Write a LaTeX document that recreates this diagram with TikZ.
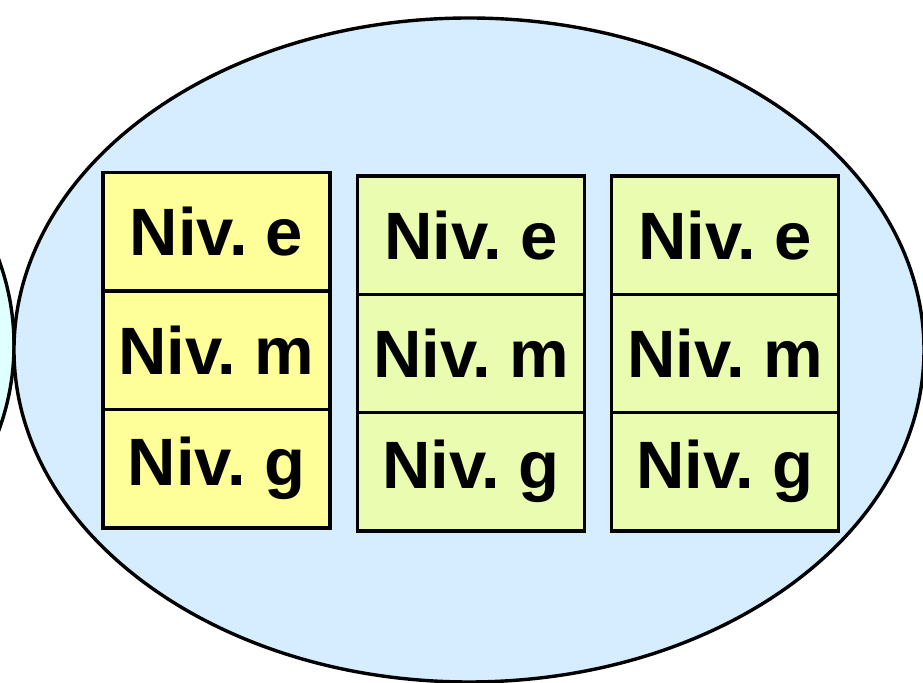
\documentclass[tikz,border=0pt]{standalone}
\usepackage{fontspec}
\setmainfont{Liberation Sans}[WordSpace=0.65]
\usetikzlibrary{shapes.geometric}

\definecolor{outerblue}{HTML}{D6ECFF}
\definecolor{leftcyan}{HTML}{E0FFFF}
\definecolor{yelbox}{HTML}{FFFF99}
\definecolor{grnbox}{HTML}{E9FCB0}

\begin{document}
\begin{tikzpicture}[x=0.5pt, y=-0.5pt,
        field/.style={ellipse, draw, line width=1.7pt, inner sep=0pt, minimum width=455pt, minimum height=332pt},
        cell/.style={rectangle, draw, line width=1.75pt, inner sep=0pt, minimum width=113.5pt, minimum height=59.2pt, font=\fontsize{33.5}{40}\selectfont\bfseries}]
        \useasboundingbox (0,0) rectangle (923,683);

        \node[field, fill=leftcyan] (left) at (-441, 345) {};
        \node[field, fill=outerblue] (main) at (469, 350) {};

        \node[cell, fill=yelbox] (e1) at (216.5, 231.9) {Niv. e};
        \node[cell, fill=yelbox] (m1) at (216.5, 350.3) {Niv. m};
        \node[cell, fill=yelbox] (g1) at (216.5, 468.7) {Niv. g};

        \node[cell, fill=grnbox] (e2) at (471, 235.2) {Niv. e};
        \node[cell, fill=grnbox] (m2) at (471, 353.5) {Niv. m};
        \node[cell, fill=grnbox] (g2) at (471, 471.8) {Niv. g};

        \node[cell, fill=grnbox] (e3) at (725, 235.2) {Niv. e};
        \node[cell, fill=grnbox] (m3) at (725, 353.5) {Niv. m};
        \node[cell, fill=grnbox] (g3) at (725, 471.8) {Niv. g};
\end{tikzpicture}
\end{document}
